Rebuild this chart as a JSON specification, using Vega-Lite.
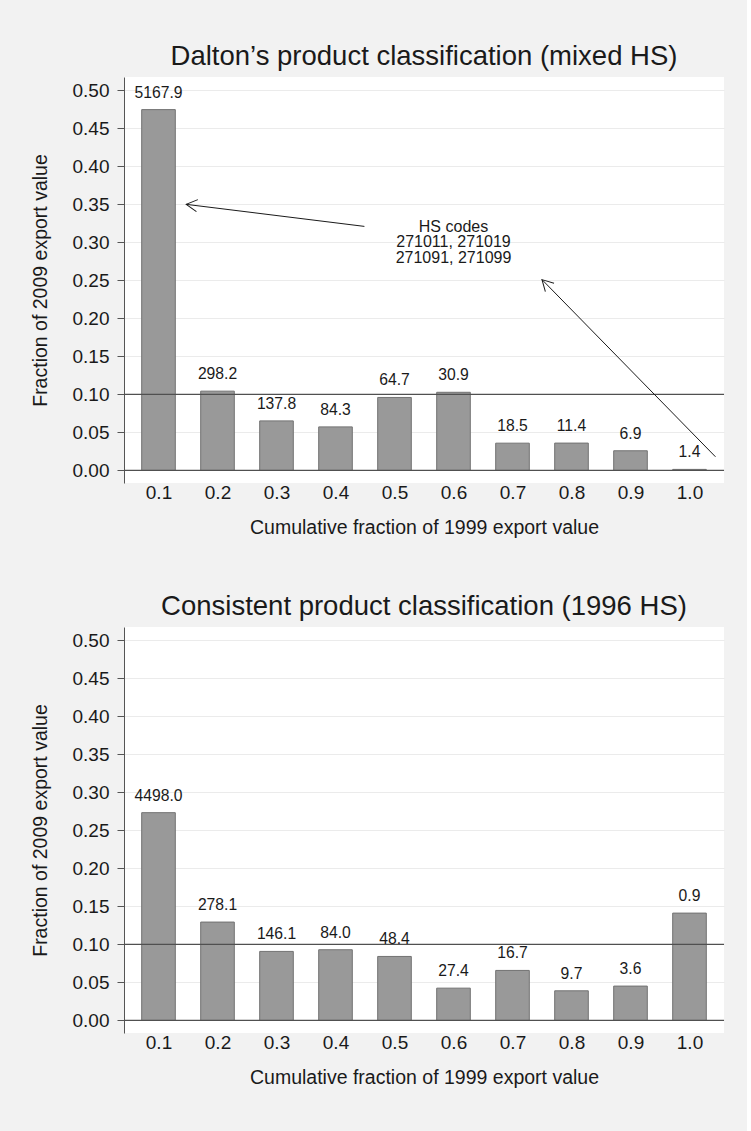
{
  "$schema": "https://vega.github.io/schema/vega-lite/v6.json",
  "background": "#f2f2f2",
  "padding": {"left": 30, "top": 42, "right": 22, "bottom": 44},
  "spacing": 55,
  "config": {
    "font": "Liberation Sans",
    "view": {"fill": "white", "stroke": null},
    "title": {"fontSize": 27.5, "fontWeight": "normal", "color": "#1a1a1a", "anchor": "middle", "offset": 7},
    "axis": {"labelColor": "#1a1a1a", "titleColor": "#1a1a1a", "titleFontWeight": "normal", "labelFlush": false, "labelOverlap": false, "labelFontSize": 19, "titleFontSize": 19.5},
    "axisX": {"ticks": false, "domain": false, "grid": false, "labelPadding": 0, "titlePadding": 16},
    "axisY": {"titlePadding": 22, "labelPadding": 8, "tickSize": 7, "tickColor": "#555555", "domainColor": "#555555", "grid": true, "gridColor": "#ebebeb"}
  },
  "datasets": {
    "top": [
      {"x": 0.1, "frac": 0.4746, "lab": "5167.9"},
      {"x": 0.2, "frac": 0.1043, "lab": "298.2"},
      {"x": 0.3, "frac": 0.0652, "lab": "137.8"},
      {"x": 0.4, "frac": 0.0573, "lab": "84.3"},
      {"x": 0.5, "frac": 0.0960, "lab": "64.7"},
      {"x": 0.6, "frac": 0.1028, "lab": "30.9"},
      {"x": 0.7, "frac": 0.0359, "lab": "18.5"},
      {"x": 0.8, "frac": 0.0360, "lab": "11.4"},
      {"x": 0.9, "frac": 0.0259, "lab": "6.9"},
      {"x": 1.0, "frac": 0.0014, "lab": "1.4"}
    ],
    "bottom": [
      {"x": 0.1, "frac": 0.2733, "lab": "4498.0"},
      {"x": 0.2, "frac": 0.1294, "lab": "278.1"},
      {"x": 0.3, "frac": 0.0908, "lab": "146.1"},
      {"x": 0.4, "frac": 0.0930, "lab": "84.0"},
      {"x": 0.5, "frac": 0.0842, "lab": "48.4"},
      {"x": 0.6, "frac": 0.0425, "lab": "27.4"},
      {"x": 0.7, "frac": 0.0658, "lab": "16.7"},
      {"x": 0.8, "frac": 0.0390, "lab": "9.7"},
      {"x": 0.9, "frac": 0.0452, "lab": "3.6"},
      {"x": 1.0, "frac": 0.1412, "lab": "0.9"}
    ],
    "refs": [{"ref": 0}, {"ref": 0.1}],
    "arrows": [
      {"id": 1, "x": 0.449, "y": 0.321, "xe": 0.147, "ye": 0.35},
      {"id": 2, "x": 1.044, "y": 0.018, "xe": 0.75, "ye": 0.251}
    ],
    "note": [{"x": 0.6, "y": 0.3203, "text": "HS codes\n271011, 271019\n271091, 271099"}]
  },
  "vconcat": [
    {
      "title": "Dalton’s product classification (mixed HS)",
      "width": 600,
      "height": 406,
      "layer": [
        {
          "data": {"name": "top"},
          "mark": {"type": "bar", "size": 33.6, "fill": "#999999", "stroke": "#727272", "strokeWidth": 1},
          "encoding": {
            "x": {"field": "x", "type": "quantitative", "scale": {"domain": [0.05, 1.05], "nice": false, "zero": false},
              "title": "Cumulative fraction of 1999 export value",
              "axis": {"values": [0.1, 0.2, 0.3, 0.4, 0.5, 0.6, 0.7, 0.8, 0.9, 1.0], "format": ".1f"}},
            "y": {"field": "frac", "type": "quantitative", "scale": {"domain": [-0.0165, 0.5175], "nice": false, "zero": false},
              "title": "Fraction of 2009 export value",
              "axis": {"values": [0, 0.05, 0.1, 0.15, 0.2, 0.25, 0.3, 0.35, 0.4, 0.45, 0.5], "format": ".2f"}},
            "y2": {"datum": 0}
          }
        },
        {
          "data": {"name": "refs"},
          "mark": {"type": "rule", "color": "#505050", "strokeWidth": 1.2},
          "encoding": {"y": {"field": "ref", "type": "quantitative", "title": "Fraction of 2009 export value"}}
        },
        {
          "data": {"name": "top"},
          "mark": {"type": "text", "dy": -17, "baseline": "middle", "fontSize": 15.7, "color": "#1a1a1a"},
          "encoding": {
            "x": {"field": "x", "type": "quantitative", "title": "Cumulative fraction of 1999 export value"},
            "y": {"field": "frac", "type": "quantitative", "title": "Fraction of 2009 export value"},
            "text": {"field": "lab"}
          }
        },
        {
          "data": {"name": "arrows"},
          "mark": {"type": "rule", "color": "#1a1a1a", "strokeWidth": 1},
          "encoding": {
            "x": {"field": "x", "type": "quantitative", "title": "Cumulative fraction of 1999 export value"},
            "x2": {"field": "xe"},
            "y": {"field": "y", "type": "quantitative", "title": "Fraction of 2009 export value"},
            "y2": {"field": "ye"}
          }
        },
        {
          "data": {"name": "arrows"},
          "transform": [{"filter": "datum.id == 1"}],
          "mark": {"type": "point", "shape": "M -2 -1.1 L 0 0 L -2 1.1", "size": 121, "filled": false, "opacity": 1, "color": "#1a1a1a", "strokeWidth": 1, "angle": 186.8},
          "encoding": {
            "x": {"field": "xe", "type": "quantitative", "title": "Cumulative fraction of 1999 export value"},
            "y": {"field": "ye", "type": "quantitative", "title": "Fraction of 2009 export value"}
          }
        },
        {
          "data": {"name": "arrows"},
          "transform": [{"filter": "datum.id == 2"}],
          "mark": {"type": "point", "shape": "M -2 -1.1 L 0 0 L -2 1.1", "size": 121, "filled": false, "opacity": 1, "color": "#1a1a1a", "strokeWidth": 1, "angle": 225.6},
          "encoding": {
            "x": {"field": "xe", "type": "quantitative", "title": "Cumulative fraction of 1999 export value"},
            "y": {"field": "ye", "type": "quantitative", "title": "Fraction of 2009 export value"}
          }
        },
        {
          "data": {"name": "note"},
          "mark": {"type": "text", "lineBreak": "\n", "fontSize": 16, "lineHeight": 15.5, "baseline": "middle", "align": "center", "color": "#1a1a1a"},
          "encoding": {
            "x": {"field": "x", "type": "quantitative", "title": "Cumulative fraction of 1999 export value"},
            "y": {"field": "y", "type": "quantitative", "title": "Fraction of 2009 export value"},
            "text": {"field": "text"}
          }
        }
      ]
    },
    {
      "title": "Consistent product classification (1996 HS)",
      "width": 600,
      "height": 406,
      "layer": [
        {
          "data": {"name": "bottom"},
          "mark": {"type": "bar", "size": 33.6, "fill": "#999999", "stroke": "#727272", "strokeWidth": 1},
          "encoding": {
            "x": {"field": "x", "type": "quantitative", "scale": {"domain": [0.05, 1.05], "nice": false, "zero": false},
              "title": "Cumulative fraction of 1999 export value",
              "axis": {"values": [0.1, 0.2, 0.3, 0.4, 0.5, 0.6, 0.7, 0.8, 0.9, 1.0], "format": ".1f"}},
            "y": {"field": "frac", "type": "quantitative", "scale": {"domain": [-0.0165, 0.5175], "nice": false, "zero": false},
              "title": "Fraction of 2009 export value",
              "axis": {"values": [0, 0.05, 0.1, 0.15, 0.2, 0.25, 0.3, 0.35, 0.4, 0.45, 0.5], "format": ".2f"}},
            "y2": {"datum": 0}
          }
        },
        {
          "data": {"name": "refs"},
          "mark": {"type": "rule", "color": "#505050", "strokeWidth": 1.2},
          "encoding": {"y": {"field": "ref", "type": "quantitative", "title": "Fraction of 2009 export value"}}
        },
        {
          "data": {"name": "bottom"},
          "mark": {"type": "text", "dy": -17, "baseline": "middle", "fontSize": 15.7, "color": "#1a1a1a"},
          "encoding": {
            "x": {"field": "x", "type": "quantitative", "title": "Cumulative fraction of 1999 export value"},
            "y": {"field": "frac", "type": "quantitative", "title": "Fraction of 2009 export value"},
            "text": {"field": "lab"}
          }
        }
      ]
    }
  ]
}
